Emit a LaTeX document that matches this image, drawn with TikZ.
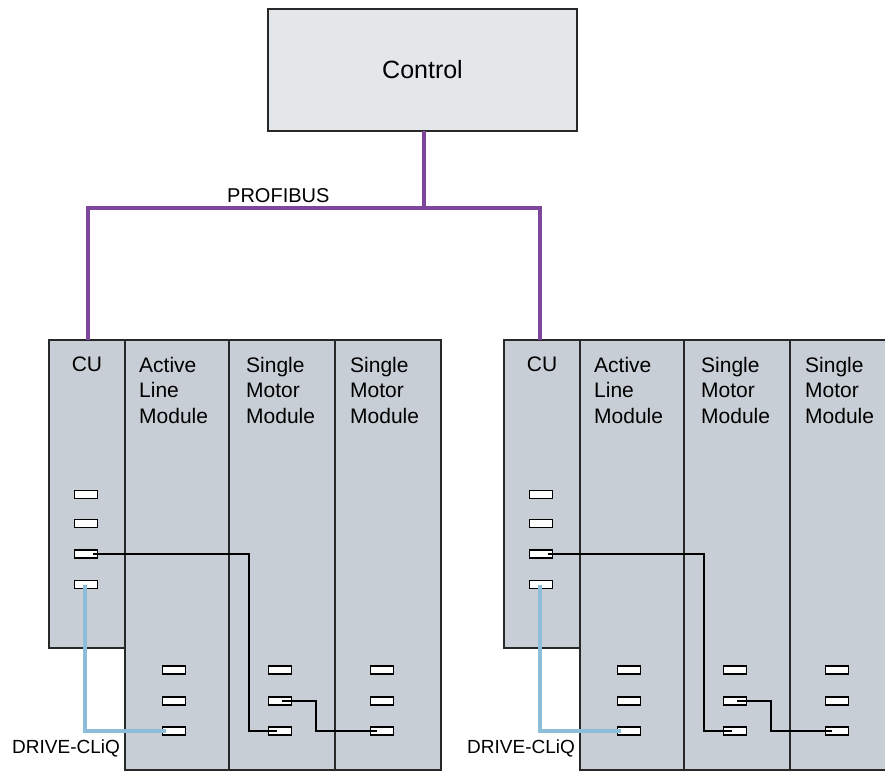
\documentclass[tikz,border=0pt]{standalone}
\usepackage{fontspec}
\setmainfont{Liberation Sans}
\definecolor{modfill}{RGB}{200,206,213}
\definecolor{ctrlfill}{RGB}{228,231,234}
\definecolor{bordercol}{RGB}{40,40,40}
\definecolor{profcol}{RGB}{125,70,155}
\definecolor{dcqcol}{RGB}{140,190,218}
\tikzset{
  modbox/.style={draw=bordercol, line width=1.7pt, fill=modfill, anchor=north west, inner sep=0pt, outer sep=0pt},
  ctrlbox/.style={draw=bordercol, line width=1.7pt, fill=ctrlfill, anchor=north west, inner sep=0pt, outer sep=0pt, font=\fontsize{25}{30}\selectfont},
  portbox/.style={draw=black, fill=white, line width=1.6pt, minimum width=23pt, minimum height=8pt, inner sep=0pt, outer sep=0pt},
  modlabel/.style={font=\fontsize{21}{25.5}\selectfont, align=left, anchor=north west, inner sep=0pt},
  culabel/.style={font=\fontsize{21}{25.5}\selectfont, anchor=north, inner sep=0pt},
  buslabel/.style={font=\fontsize{20}{24}\selectfont, anchor=base west, inner sep=0pt},
  dcqlabel/.style={font=\fontsize{19}{23}\selectfont, anchor=base west, inner sep=0pt},
  bus/.style={draw=profcol, line width=3.8pt},
  dcq/.style={draw=dcqcol, line width=3.5pt},
  wire/.style={draw=black, line width=1.5pt}
}
\newcommand{\drivegroup}[3]{%
\begin{scope}[xshift=#1pt]
  % modules
  \node[modbox, minimum width=76pt, minimum height=308pt] (cu#2) at (49,340) {};
  \node[modbox, minimum width=104pt, minimum height=430pt] (alm#2) at (125,340) {};
  \node[modbox, minimum width=106pt, minimum height=430pt] (sma#2) at (229,340) {};
  \node[modbox, minimum width=#3pt, minimum height=430pt] (smb#2) at (335,340) {};
  % labels
  \node[culabel] (cut#2) at (87,357) {CU};
  \node[modlabel] (almt#2) at (139,357) {Active\\Line\\Module};
  \node[modlabel] (smat#2) at (246,357) {Single\\Motor\\Module};
  \node[modlabel] (smbt#2) at (350,357) {Single\\Motor\\Module};
  % ports
  \node[portbox] (cup1#2) at (86,494.5) {};
  \node[portbox] (cup2#2) at (86,523.5) {};
  \node[portbox] (cup3#2) at (86,554) {};
  \node[portbox] (cup4#2) at (86,584.5) {};
  \node[portbox] (almp1#2) at (174,670) {};
  \node[portbox] (almp2#2) at (174,701) {};
  \node[portbox] (almp3#2) at (174,731) {};
  \node[portbox] (smap1#2) at (280,670) {};
  \node[portbox] (smap2#2) at (280,701) {};
  \node[portbox] (smap3#2) at (280,731) {};
  \node[portbox] (smbp1#2) at (382,670) {};
  \node[portbox] (smbp2#2) at (382,701) {};
  \node[portbox] (smbp3#2) at (382,731) {};
  % bends
  \coordinate (ka#2) at (249,600);
  \coordinate (kb#2) at (316,600);
  % DRIVE-CLiQ cable
  \draw[dcq] ([xshift=-1pt]cup4#2.center) |- ([xshift=-8pt]almp3#2.center);
  \node[dcqlabel] (dcqt#2) at (12,753) {DRIVE-CLiQ};
  % black wires
  \draw[wire] ([xshift=7pt]cup3#2.center) -- (ka#2 |- cup3#2.center) -- (ka#2 |- smap3#2.center) -- ([xshift=-3pt]smap3#2.center);
  \draw[wire] ([xshift=2pt]smap2#2.center) -- (kb#2 |- smap2#2.center) -- (kb#2 |- smbp3#2.center) -- ([xshift=-5pt]smbp3#2.center);
\end{scope}}
\begin{document}
\begin{tikzpicture}[x=1pt,y=-1pt]
  \useasboundingbox (0,0) rectangle (885,772);
  \clip (-2,-2) rectangle (887,774);
  \fill[white] (-2,-2) rectangle (887,774);
  % control
  \node[ctrlbox, minimum width=309pt, minimum height=122pt] (ctrl) at (268,9) {Control};
  % drive groups
  \drivegroup{0}{A}{106}
  \drivegroup{455}{B}{140}
  % PROFIBUS
  \coordinate (junc) at (424,208);
  \coordinate (busL) at (88,208);
  \coordinate (busR) at (540,208);
  \draw[bus] (ctrl.south -| junc) -- (junc);
  \draw[bus] (busL |- cuA.north) -- (busL) -- (busR) -- (busR |- cuB.north);
  \node[buslabel] (pbt) at (227,202) {PROFIBUS};
\end{tikzpicture}
\end{document}
